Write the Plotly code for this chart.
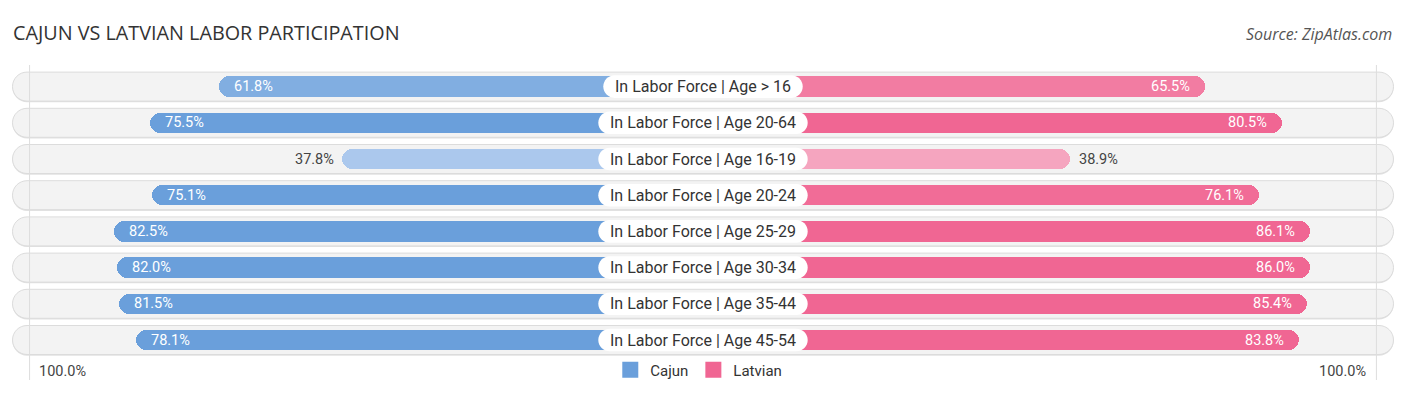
import plotly.graph_objects as go

# ---------------- data ----------------
categories = [
    "In Labor Force | Age > 16",
    "In Labor Force | Age 20-64",
    "In Labor Force | Age 16-19",
    "In Labor Force | Age 20-24",
    "In Labor Force | Age 25-29",
    "In Labor Force | Age 30-34",
    "In Labor Force | Age 35-44",
    "In Labor Force | Age 45-54",
]
cajun = [61.8, 75.5, 37.8, 75.1, 82.5, 82.0, 81.5, 78.1]
latvian = [65.5, 80.5, 38.9, 76.1, 86.1, 86.0, 85.4, 83.8]
series_names = ["Cajun", "Latvian"]
axis_labels = ["100.0%", "100.0%"]

# ---------------- styling / geometry ----------------
W, H = 1406, 395
PX = 5.09            # pixels per percentage unit
OFF = 33.2           # half-width of the central label area (units)
XR = (W / 2) / PX    # half of x range
ROW0, ROWH = 86.6, 36.2
Y_TOP = -ROW0 / ROWH
Y_BOT = (H - ROW0) / ROWH
PILL_HW = 690.5      # px
PILL_HH = 14.5       # px
LBL_HH = 11.3        # px
GRID = 132.3
FONT = "Roboto"

C_LIGHT, C_FULL = "#b0cbee", "#6a9fdb"
L_LIGHT, L_FULL = "#f6abc3", "#f06693"


def mix(c1, c2, t):
    a = [int(c1[i:i + 2], 16) for i in (1, 3, 5)]
    b = [int(c2[i:i + 2], 16) for i in (1, 3, 5)]
    return "#" + "".join(f"{round(x + (y - x) * t):02x}" for x, y in zip(a, b))


def clip(v):
    return max(0.0, min(1.0, v))


# Roboto advance widths (em)
ADV = {"I": .272, "n": .552, " ": .248, "L": .431, "a": .544, "b": .561, "o": .570,
       "r": .338, "F": .545, "c": .523, "e": .530, "|": .244, "A": .652, "g": .561,
       "-": .276, ">": .530}


def text_px(s, size):
    return sum(ADV.get(ch, .562) for ch in s) * size


def rounded_path(hw, hh, r, dy=0.0):
    k = 0.5523 * r
    p = [
        f"M {-hw + r},{-hh + dy}",
        f"L {hw - r},{-hh + dy}",
        f"C {hw - r + k},{-hh + dy} {hw},{-hh + r - k + dy} {hw},{-hh + r + dy}",
        f"L {hw},{hh - r + dy}",
        f"C {hw},{hh - r + k + dy} {hw - r + k},{hh + dy} {hw - r},{hh + dy}",
        f"L {-hw + r},{hh + dy}",
        f"C {-hw + r - k},{hh + dy} {-hw},{hh - r + k + dy} {-hw},{hh - r + dy}",
        f"L {-hw},{-hh + r + dy}",
        f"C {-hw},{-hh + r - k + dy} {-hw + r - k},{-hh + dy} {-hw + r},{-hh + dy}",
        "Z",
    ]
    return " ".join(p)


rows = list(range(len(categories)))
fig = go.Figure()

# data bars
c_cols = [mix(C_LIGHT, C_FULL, clip((v - 35) / 40)) for v in cajun]
l_cols = [mix(L_LIGHT, L_FULL, clip((v - 35) / 45)) for v in latvian]
fig.add_trace(go.Bar(
    y=rows, x=[-(v + OFF) for v in cajun], base=0, orientation="h", width=0.566,
    marker=dict(color=c_cols, line=dict(width=0), cornerradius=10),
    showlegend=False, name=series_names[0],
    hovertemplate="%{customdata}%<extra>Cajun</extra>", customdata=cajun))
fig.add_trace(go.Bar(
    y=rows, x=[v + OFF for v in latvian], base=0, orientation="h", width=0.566,
    marker=dict(color=l_cols, line=dict(width=0), cornerradius=10),
    showlegend=False, name=series_names[1],
    hovertemplate="%{customdata}%<extra>Latvian</extra>", customdata=latvian))

# legend entries
for nm, col in zip(series_names, [C_FULL, L_FULL]):
    fig.add_trace(go.Scatter(
        x=[None], y=[None], mode="markers", name=nm,
        marker=dict(symbol="square", size=17, color=col)))

shapes = []
for i, c in enumerate(categories):
    # shadow + pill background
    shapes.append(dict(type="path", xref="x", yref="y", xsizemode="pixel", ysizemode="pixel",
                       xanchor=0, yanchor=i, path=rounded_path(PILL_HW, PILL_HH, PILL_HH, dy=-1.2),
                       fillcolor="#e2e2e2", line=dict(width=0), layer="below"))
    shapes.append(dict(type="path", xref="x", yref="y", xsizemode="pixel", ysizemode="pixel",
                       xanchor=0, yanchor=i, path=rounded_path(PILL_HW, PILL_HH, PILL_HH),
                       fillcolor="#f3f3f3", line=dict(color="#dcdcdc", width=1), layer="below"))
    # label box
    hw = (text_px(c, 16) + 25) / 2
    shapes.append(dict(type="path", xref="x", yref="y", xsizemode="pixel", ysizemode="pixel",
                       xanchor=0, yanchor=i, path=rounded_path(hw, LBL_HH, LBL_HH),
                       fillcolor="#ffffff", line=dict(width=0), layer="above"))

for gx in (-GRID, GRID):
    shapes.append(dict(type="line", x0=gx, x1=gx, xref="x", y0=1 - 65 / H, y1=1 - 380 / H,
                       yref="paper", line=dict(color="#dddddd", width=1), layer="above"))

ann = []
for i, c in enumerate(categories):
    ann.append(dict(x=0, y=i, text=c, showarrow=False, xanchor="center", yanchor="middle",
                    font=dict(family=FONT, size=16, color="#333333")))
    v = cajun[i]
    if v >= 50:
        ann.append(dict(x=-(v + OFF) + 13 / PX, y=i, text=f"{v:.1f}%", showarrow=False,
                        xanchor="left", yanchor="middle",
                        font=dict(family=FONT, size=14.5, color="#ffffff")))
    else:
        ann.append(dict(x=-(v + OFF) - 6 / PX, y=i, text=f"{v:.1f}%", showarrow=False,
                        xanchor="right", yanchor="middle",
                        font=dict(family=FONT, size=14.5, color="#444444")))
    v = latvian[i]
    if v >= 50:
        ann.append(dict(x=(v + OFF) - 13 / PX, y=i, text=f"{v:.1f}%", showarrow=False,
                        xanchor="right", yanchor="middle",
                        font=dict(family=FONT, size=14.5, color="#ffffff")))
    else:
        ann.append(dict(x=(v + OFF) + 7 / PX, y=i, text=f"{v:.1f}%", showarrow=False,
                        xanchor="left", yanchor="middle",
                        font=dict(family=FONT, size=14.5, color="#444444")))

ann.append(dict(x=37 / W, xref="paper", y=1 - 371 / H, yref="paper", text=axis_labels[0],
                showarrow=False, xanchor="left", yanchor="middle",
                font=dict(family=FONT, size=14.5, color="#444444")))
ann.append(dict(x=1368 / W, xref="paper", y=1 - 371 / H, yref="paper", text=axis_labels[1],
                showarrow=False, xanchor="right", yanchor="middle",
                font=dict(family=FONT, size=14.5, color="#444444")))
ann.append(dict(x=1394 / W, xref="paper", y=1 - 34 / H, yref="paper",
                text="<i>Source: ZipAtlas.com</i>", showarrow=False,
                xanchor="right", yanchor="middle",
                font=dict(family="Open Sans", size=16, color="#555555")))

fig.update_layout(
    width=W, height=H, margin=dict(l=0, r=0, t=0, b=0),
    paper_bgcolor="#ffffff", plot_bgcolor="#ffffff",
    barmode="overlay", bargap=0,
    title=dict(text="CAJUN VS LATVIAN LABOR PARTICIPATION", x=13 / W, xanchor="left",
               y=1 - 33 / H, yanchor="middle", yref="container",
               font=dict(family="Open Sans", size=19.8, color="#333333")),
    xaxis=dict(range=[-XR, XR], visible=False, fixedrange=True),
    yaxis=dict(range=[Y_BOT, Y_TOP], visible=False, fixedrange=True),
    showlegend=True,
    legend=dict(orientation="h", x=0.497, xanchor="center", y=1 - 370 / H, yanchor="middle",
                font=dict(family=FONT, size=15, color="#333333"), bgcolor="rgba(0,0,0,0)"),
    annotations=ann, shapes=shapes,
)

fig.write_html("out.html", config={"displayModeBar": False},
               post_script="document.body.style.margin='0';document.body.style.overflow='hidden';")
